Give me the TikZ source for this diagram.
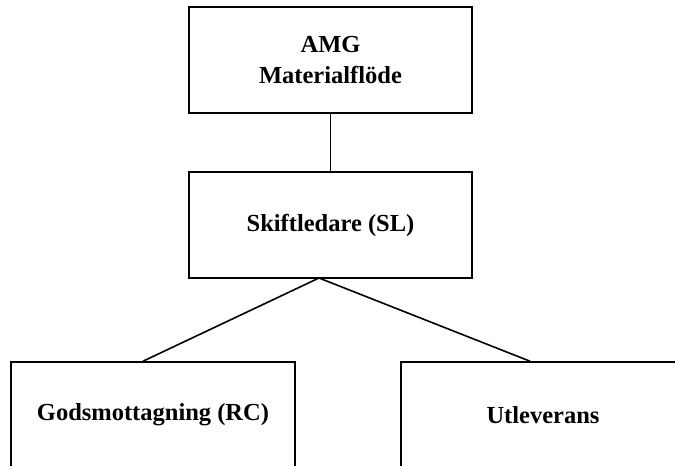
\documentclass[tikz,border=0pt]{standalone}
\usepackage{fontspec}
\setmainfont{Liberation Serif}
\begin{document}
\begin{tikzpicture}[x=1pt,y=-1pt,
  link/.style={line width=1.6pt},
  orgbox/.style={draw,line width=1.6pt,minimum width=283pt,minimum height=106pt,
    inner sep=0pt,align=center,font=\fontsize{24.5}{31}\selectfont\bfseries}]
\useasboundingbox (0,0) rectangle (675,466);
\clip (0,0) rectangle (675,466);
\node[orgbox] (amg) at (330.5,60) {AMG\\Materialflöde};
\node[orgbox] (sl) at (330.5,225) {Skiftledare (SL)};
\node[orgbox,minimum width=284pt] (rc) at (153,415) {Godsmottagning (RC)};
\node[orgbox,minimum width=284pt] (ut) at (543,415) {Utleverans};
\coordinate (fork) at (319,278);
\draw[link] (amg.south) -- (sl.north);
\draw[link] (fork) -- (rc.north west -| 143,0);
\draw[link] (fork) -- (ut.north west -| 530,0);
\end{tikzpicture}
\end{document}
